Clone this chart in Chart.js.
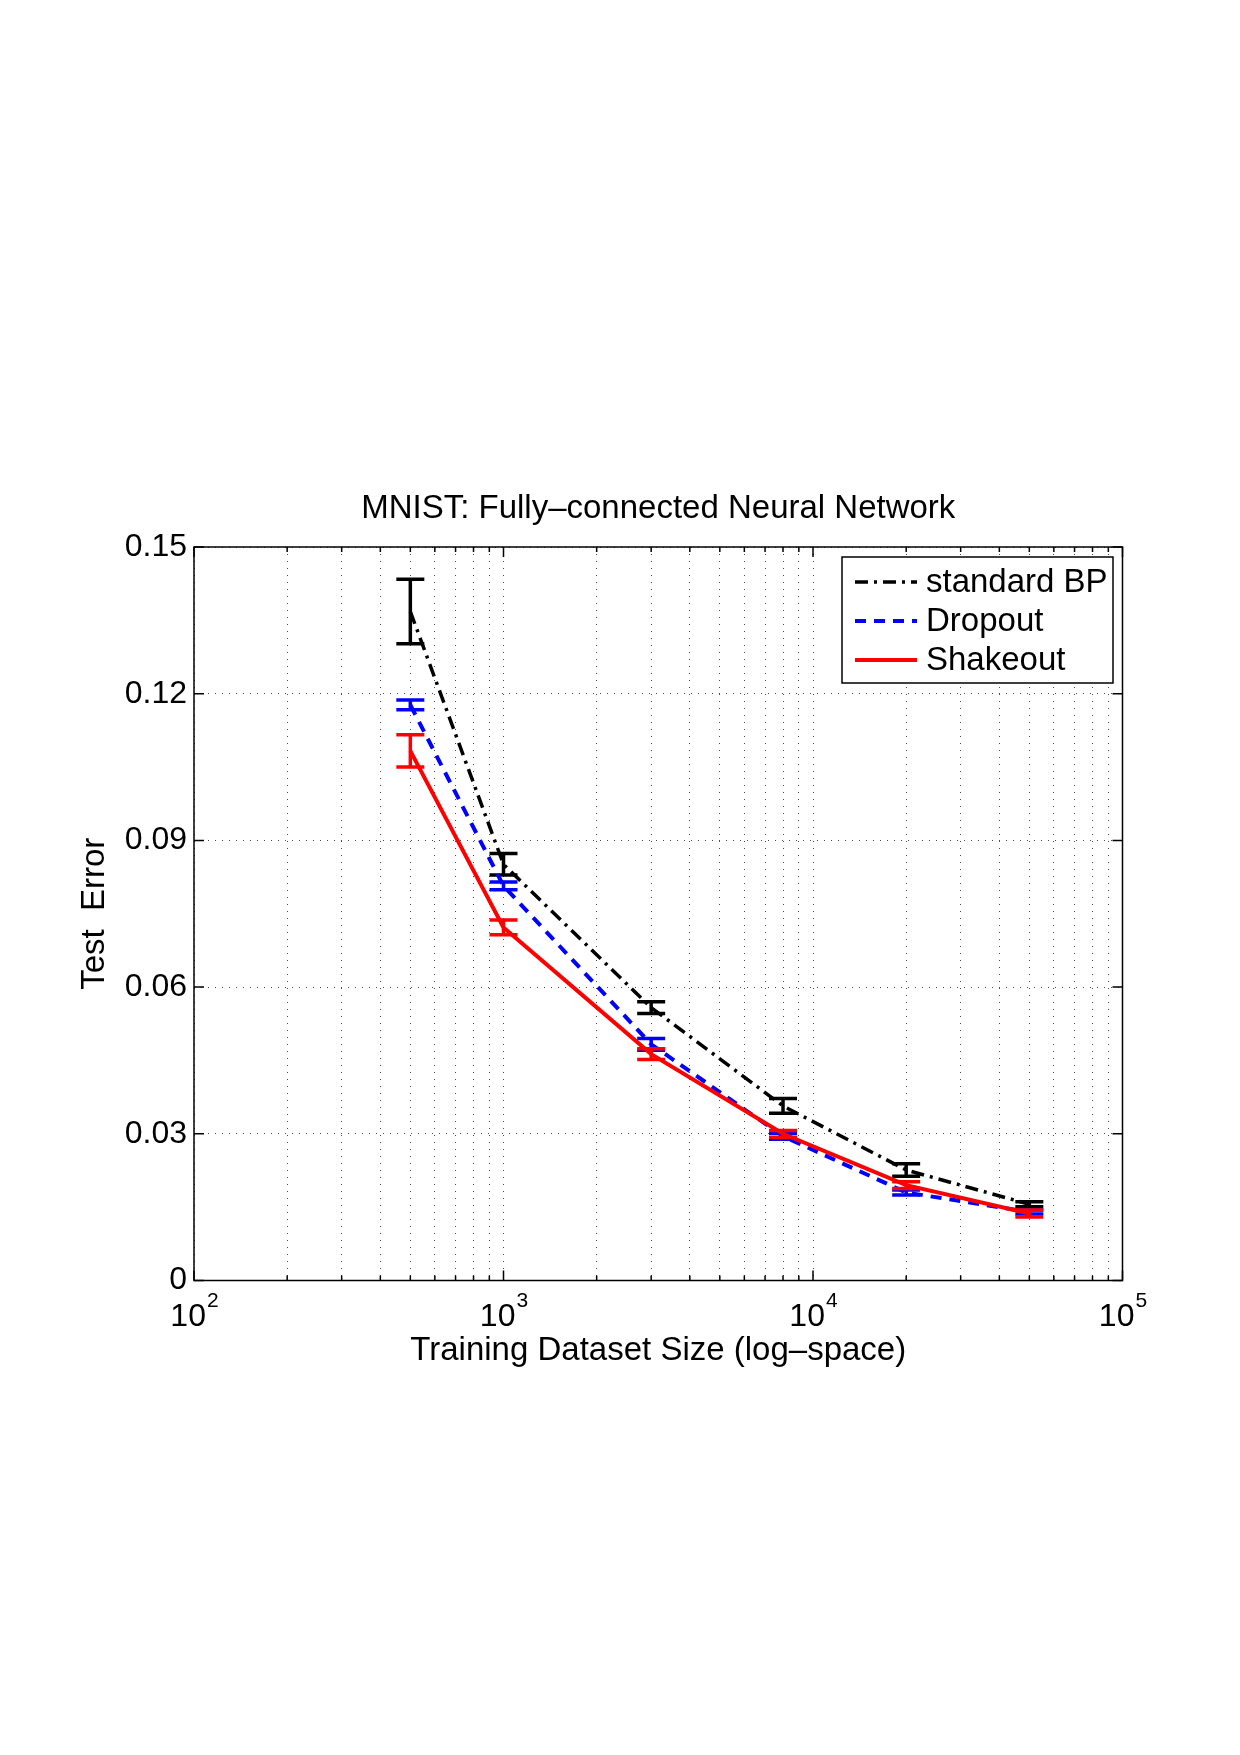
<!DOCTYPE html>
<html>
<head>
<meta charset="utf-8">
<script src="https://cdn.jsdelivr.net/npm/chart.js@4.4.1/dist/chart.umd.min.js"></script>
<style>
  html, body { margin: 0; padding: 0; background: #fff; }
  #wrap { width: 1240px; height: 1755px; }
</style>
</head>
<body>
<div id="wrap"><canvas id="chart" width="1240" height="1755"></canvas></div>
<script>
// training set sizes (x) and test error (y)
const sizes = [500, 1000, 3000, 8000, 20000, 50000];

const bpMean = [0.1368, 0.0851, 0.0558, 0.0357, 0.0226, 0.0156];
const bpErr = [0.0066, 0.0022, 0.0012, 0.0015, 0.0013, 0.0005];

const dropMean = [0.1177, 0.0807, 0.0483, 0.0295, 0.0180, 0.0140];
const dropErr = [0.0010, 0.0008, 0.0012, 0.0006, 0.0005, 0.0004];

const shakeMean = [0.1083, 0.0722, 0.0463, 0.0300, 0.0195, 0.0137];
const shakeErr = [0.0033, 0.0015, 0.0011, 0.0007, 0.0007, 0.0007];

const xTickExps = [2, 3, 4, 5];
const yTicks = [0, 0.03, 0.06, 0.09, 0.12, 0.15];

const titleText = 'MNIST: Fully\u2013connected Neural Network';

const FONT = "'Liberation Sans', Arial, Helvetica, sans-serif";

function pts(ys) {
    return sizes.map((x, i) => ({ x: x, y: ys[i] }));
}

// error bars, drawn right after each series so the stacking matches
const errorBars = {
    id: 'errorBars',
    afterDatasetDraw(chart, args) {
        const ds = chart.data.datasets[args.index];
        if (!ds.errors) return;
        const xs = chart.scales.x, ys = chart.scales.y;
        const ctx = chart.ctx;
        const cap = 14;
        ctx.save();
        ctx.strokeStyle = ds.borderColor;
        ctx.lineWidth = 3.5;
        ctx.setLineDash([]);
        ds.data.forEach((p, i) => {
            const px = xs.getPixelForValue(p.x);
            const top = ys.getPixelForValue(p.y + ds.errors[i]);
            const bot = ys.getPixelForValue(p.y - ds.errors[i]);
            ctx.beginPath();
            ctx.moveTo(px, top); ctx.lineTo(px, bot);
            ctx.moveTo(px - cap, top); ctx.lineTo(px + cap, top);
            ctx.moveTo(px - cap, bot); ctx.lineTo(px + cap, bot);
            ctx.stroke();
        });
        ctx.restore();
    }
};

// matlab style box, inward ticks, title, x labels as powers of ten, legend
const axesBox = {
    id: 'axesBox',
    afterDraw(chart) {
        const ctx = chart.ctx;
        const a = chart.chartArea;
        const xs = chart.scales.x, ys = chart.scales.y;
        ctx.save();
        ctx.strokeStyle = '#000';
        ctx.lineWidth = 1.5;
        ctx.setLineDash([]);
        ctx.strokeRect(a.left, a.top, a.right - a.left, a.bottom - a.top);

        ctx.beginPath();
        xs.ticks.forEach(t => {
            const px = xs.getPixelForValue(t.value);
            const major = Math.abs(Math.log10(t.value) - Math.round(Math.log10(t.value))) < 1e-9;
            const len = major ? 10 : 5;
            ctx.moveTo(px, a.bottom); ctx.lineTo(px, a.bottom - len);
            ctx.moveTo(px, a.top); ctx.lineTo(px, a.top + len);
        });
        yTicks.forEach(v => {
            const py = ys.getPixelForValue(v);
            ctx.moveTo(a.left, py); ctx.lineTo(a.left + 10, py);
            ctx.moveTo(a.right, py); ctx.lineTo(a.right - 10, py);
        });
        ctx.stroke();

        // title centred over the axes
        ctx.fillStyle = '#000';
        ctx.textBaseline = 'middle';
        ctx.textAlign = 'center';
        ctx.font = '33px ' + FONT;
        ctx.fillText(titleText, (a.left + a.right) / 2, a.top - 38);

        // x tick labels: 10 with raised exponent
        ctx.textAlign = 'left';
        xTickExps.forEach(e => {
            const px = xs.getPixelForValue(Math.pow(10, e));
            ctx.font = '32px ' + FONT;
            const wb = ctx.measureText('10').width;
            ctx.font = '21px ' + FONT;
            const we = ctx.measureText(String(e)).width;
            const x0 = px - (wb + we) / 2;
            ctx.font = '32px ' + FONT;
            ctx.fillText('10', x0, a.bottom + 37);
            ctx.font = '21px ' + FONT;
            ctx.fillText(String(e), x0 + wb + 1, a.bottom + 21);
        });

        // legend
        const bw = 271, bh = 126;
        const bx = a.right - 9.5 - bw, by = a.top + 10;
        ctx.fillStyle = '#fff';
        ctx.fillRect(bx, by, bw, bh);
        ctx.lineWidth = 1.5;
        ctx.strokeRect(bx, by, bw, bh);
        ctx.font = '33px ' + FONT;
        chart.data.datasets.forEach((ds, i) => {
            const ry = by + 25 + i * 39;
            ctx.strokeStyle = ds.borderColor;
            ctx.lineWidth = ds.borderWidth;
            ctx.setLineDash(ds.borderDash || []);
            ctx.beginPath();
            ctx.moveTo(bx + 13, ry); ctx.lineTo(bx + 75, ry);
            ctx.stroke();
            ctx.fillStyle = '#000';
            ctx.fillText(ds.label, bx + 84, ry + 1);
        });
        ctx.restore();
    }
};

const gridOpts = {
    color: 'rgba(0,0,0,0.7)',
    lineWidth: 1,
    drawTicks: false
};

new Chart(document.getElementById('chart'), {
    type: 'line',
    data: {
        datasets: [{
            label: 'standard BP',
            data: pts(bpMean),
            errors: bpErr,
            borderColor: '#000000',
            borderWidth: 3.5,
            borderDash: [13, 6, 3, 6],
            order: 3
        }, {
            label: 'Dropout',
            data: pts(dropMean),
            errors: dropErr,
            borderColor: '#0000ff',
            borderWidth: 4,
            borderDash: [11, 8],
            order: 2
        }, {
            label: 'Shakeout',
            data: pts(shakeMean),
            errors: shakeErr,
            borderColor: '#ff0000',
            borderWidth: 4,
            order: 1
        }]
    },
    options: {
        responsive: false,
        animation: false,
        devicePixelRatio: 1,
        layout: { padding: { left: 0, right: 117.5, top: 547, bottom: 384 } },
        elements: {
            point: { radius: 0, hoverRadius: 0 },
            line: { tension: 0, fill: false, borderCapStyle: 'butt' }
        },
        plugins: {
            legend: { display: false },
            tooltip: { enabled: false },
            title: { display: false }
        },
        scales: {
            x: {
                type: 'logarithmic',
                min: 100,
                max: 100000,
                afterBuildTicks: s => {
                    const t = [];
                    xTickExps.slice(0, -1).forEach(e => {
                        for (let m = 1; m <= 9; m++) t.push({ value: m * Math.pow(10, e) });
                    });
                    t.push({ value: Math.pow(10, xTickExps[xTickExps.length - 1]) });
                    s.ticks = t;
                },
                afterFit: s => { s.height = 90.5; },
                grid: gridOpts,
                border: { display: false, dash: [1, 6] },
                ticks: { display: false, autoSkip: false },
                title: {
                    display: true,
                    text: 'Training Dataset Size (log\u2013space)',
                    color: '#000',
                    font: { family: FONT, size: 33 },
                    padding: { top: 0, bottom: 0 }
                }
            },
            y: {
                min: 0,
                max: 0.15,
                afterBuildTicks: s => { s.ticks = yTicks.map(v => ({ value: v })); },
                afterFit: s => { s.width = 194; },
                grid: gridOpts,
                border: { display: false, dash: [1, 6] },
                ticks: {
                    color: '#000',
                    padding: 7,
                    font: { family: FONT, size: 32 },
                    callback: v => v === 0 ? '0' : v.toFixed(2)
                },
                title: {
                    display: true,
                    text: 'Test  Error',
                    color: '#000',
                    font: { family: FONT, size: 33 },
                    padding: { top: 75, bottom: 0 }
                }
            }
        }
    },
    plugins: [errorBars, axesBox]
});
</script>
</body>
</html>
